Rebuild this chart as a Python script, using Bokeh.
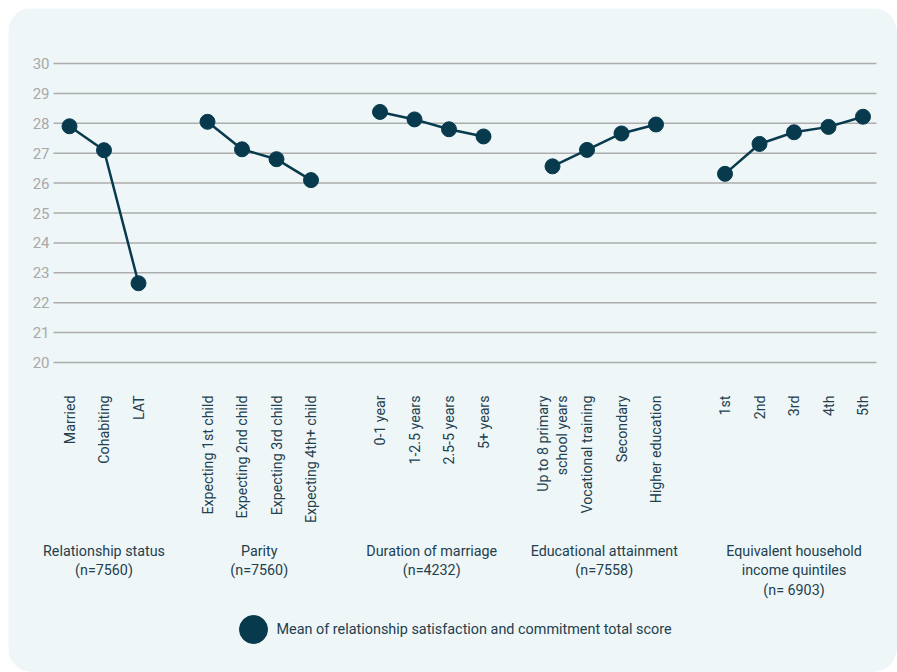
import math
from bokeh.plotting import figure
from bokeh.models import Range1d, InlineStyleSheet
from bokeh.core.properties import value
from bokeh.embed import file_html
from bokeh.resources import INLINE

# ---- data ----
group_titles = [
    "Relationship status\n(n=7560)",
    "Parity\n(n=7560)",
    "Duration of marriage\n(n=4232)",
    "Educational attainment\n(n=7558)",
    "Equivalent household\nincome quintiles\n(n= 6903)",
]
relationship_labels = ["Married", "Cohabiting", "LAT"]
relationship_values = [27.9, 27.1, 22.65]
parity_labels = ["Expecting 1st child", "Expecting 2nd child", "Expecting 3rd child", "Expecting 4th+ child"]
parity_values = [28.05, 27.13, 26.8, 26.1]
duration_labels = ["0-1 year", "1-2.5 years", "2.5-5 years", "5+ years"]
duration_values = [28.38, 28.13, 27.8, 27.56]
education_labels = ["Up to 8 primary\nschool years", "Vocational training", "Secondary", "Higher education"]
education_values = [26.56, 27.11, 27.66, 27.96]
income_labels = ["1st", "2nd", "3rd", "4th", "5th"]
income_values = [26.31, 27.31, 27.7, 27.88, 28.22]
y_ticks = [20, 21, 22, 23, 24, 25, 26, 27, 28, 29, 30]
legend_label = "Mean of relationship satisfaction and commitment total score"

all_labels = [relationship_labels, parity_labels, duration_labels, education_labels, income_labels]
all_values = [relationship_values, parity_values, duration_values, education_values, income_values]

# ---- style ----
DARK = "#073A4D"
TEXT = "#22404E"
BG = "#EFF6F8"
FONT = value("Roboto")

W, H = 889, 664
PX_PER_UNIT = 29.9        # vertical pixels per score point
SLOT = 34.5               # horizontal pixels per category slot
Y20_FROM_TOP = 354        # px from canvas top to y=20

def ydata(px_from_top):
    return 20 + (Y20_FROM_TOP - px_from_top) / PX_PER_UNIT

def xdata(page_px):
    return (page_px - 69) / SLOT

p = figure(width=W, height=H, output_backend="svg", toolbar_location=None,
           x_range=Range1d(xdata(8), xdata(8 + W)), y_range=Range1d(ydata(H), ydata(0)),
           x_axis_location=None, y_axis_location=None,
           min_border_left=0, min_border_right=0, min_border_top=0, min_border_bottom=0)
p.background_fill_color = BG
p.border_fill_color = BG
p.outline_line_color = None
p.grid.visible = False
p.stylesheets = [InlineStyleSheet(css=":host { border-radius: 24px; overflow: hidden; margin-left: 8px; margin-top: 8px; }")]

# grid lines and y tick labels (from the tick list)
n_t = len(y_ticks)
p.segment(x0=[xdata(53)] * n_t, x1=[xdata(876)] * n_t, y0=y_ticks, y1=y_ticks,
          line_color="#ADADAD", line_width=1.5)
p.text(x=[xdata(49)] * n_t, y=y_ticks, text=[str(t) for t in y_ticks],
       text_align="right", text_baseline="middle", text_font=FONT,
       text_font_size="15px", text_color="#A8A8A8")

# series, category labels, group titles
label_y = ydata(395 - 8)
title_y = ydata(542 - 8)
xs_all, labels_all = [], []
start = 0
for gi, (labs, vals) in enumerate(zip(all_labels, all_values)):
    xs = list(range(start, start + len(labs)))
    p.line(xs, vals, line_color=DARK, line_width=2.5)
    p.scatter(xs, vals, size=15, fill_color=DARK, line_color=DARK)
    xs_all += xs
    labels_all += labs
    center = (xs[0] + xs[-1]) / 2
    p.text(x=[center], y=[title_y], text=[group_titles[gi]], text_align="center",
           text_baseline="top", text_font=FONT, text_font_size="14.3px",
           text_color=TEXT, text_line_height=1.22)
    start += len(labs) + 1

p.text(x=xs_all, y=[label_y] * len(xs_all), text=labels_all, angle=math.pi / 2,
       text_align="right", text_baseline="middle", text_font=FONT,
       text_font_size="14.2px", text_color=TEXT, text_line_height=1.15)

# legend
leg_y = ydata(629 - 8)
p.scatter([xdata(253)], [leg_y], size=28, fill_color=DARK, line_color=DARK)
p.text(x=[xdata(276)], y=[leg_y], text=[legend_label], text_align="left",
       text_baseline="middle", text_font=FONT, text_font_size="14.4px", text_color=TEXT)

open("out.html", "w").write(file_html(p, INLINE))
